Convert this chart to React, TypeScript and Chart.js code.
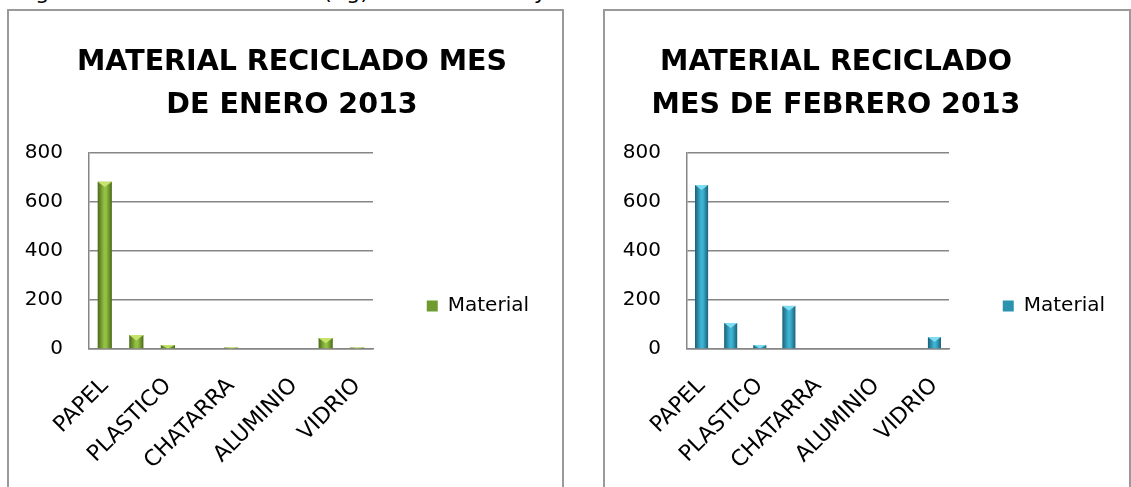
import React, { useEffect, useRef } from 'react';
import { Chart, registerables } from 'chart.js';

Chart.register(...registerables);

// ---- data ----
const categories = ['PAPEL', '', 'PLASTICO', '', 'CHATARRA', '', 'ALUMINIO', '', 'VIDRIO'];
const eneroValues = [683, 57, 16, 0, 6, 0, 0, 45, 6];
const febreroValues = [669, 106, 16, 176, 0, 0, 0, 0, 49];
const yTickValues = [0, 200, 400, 600, 800];
const seriesLabel = 'Material';
const eneroTitle = ['MATERIAL RECICLADO MES', 'DE ENERO 2013'];
const febreroTitle = ['MATERIAL RECICLADO', 'MES DE FEBRERO 2013'];
const captionText = 'Figura 3. Material reciclado (Kg) mes de enero y febrero de 2013';

const FONT = '"DejaVu Sans", "Open Sans", sans-serif';
const Y_SIZE = 20;
const X_SIZE = 22;
const LEGEND_SIZE = 20;

type Geom = {
  width: number;
  height: number;
  chartLeft: number;
  chartRight: number;
  chartTop: number;
  chartBottom: number;
  textEnd: number;
  titleCenter: number;
  legendY: number;
};

type Palette = { base: string; dark: string; light: string; cap: string };

const GREEN: Palette = { base: '#6f9a2e', dark: '#4a6a17', light: '#93c044', cap: '#c6e46c' };
const BLUE: Palette = { base: '#2a93ae', dark: '#196079', light: '#3db3d1', cap: '#7fdcf2' };

const BAR_PCT = 0.45;

function BarChart(props: { title: string[]; values: number[]; palette: Palette; geom: Geom }) {
  const ref = useRef<HTMLCanvasElement | null>(null);
  useEffect(() => {
    const canvas = ref.current;
    if (!canvas) return;
    const g = props.geom;
    const pal = props.palette;
    const m = document.createElement('canvas').getContext('2d')!;
    m.font = `${LEGEND_SIZE}px ${FONT}`;
    const textW = m.measureText(seriesLabel).width;
    const half = LEGEND_SIZE / 2;
    const legendRight = g.textEnd + 10;
    const padR = g.width - legendRight;
    const padL = 2 * g.titleCenter - legendRight;
    const legendPad = Math.max(2, legendRight - g.chartRight - 21 - half - textW);
    const legendTitleH = 2 * g.legendY - g.chartTop - g.chartBottom;
    const titleLineH = 43;
    const titlePadBottom = 25.5;
    const titlePadTop = g.chartTop - 2 * titleLineH - titlePadBottom;

    const capPlugin = {
      id: 'barCaps',
      beforeDraw(chart: any) {
        const ys = chart.scales.y;
        if (ys) ys._computeLabelArea = () => undefined;
      },
      afterDatasetsDraw(chart: any) {
        const ctx = chart.ctx;
        const meta = chart.getDatasetMeta(0);
        meta.data.forEach((bar: any, i: number) => {
          const v = props.values[i];
          if (!v) return;
          const w = bar.width;
          const h = Math.abs(bar.base - bar.y);
          const capH = Math.min(w * 0.38, h);
          ctx.save();
          ctx.fillStyle = pal.cap;
          ctx.beginPath();
          ctx.moveTo(bar.x - w / 2, bar.y);
          ctx.lineTo(bar.x + w / 2, bar.y);
          ctx.lineTo(bar.x, bar.y + capH);
          ctx.closePath();
          ctx.fill();
          ctx.restore();
        });
      },
    };

    const chart = new Chart(canvas, {
      type: 'bar',
      data: {
        labels: categories,
        datasets: [
          {
            label: seriesLabel,
            data: props.values,
            barPercentage: BAR_PCT,
            categoryPercentage: 1,
            borderWidth: 0,
            backgroundColor: (ctx: any) => {
              if (ctx.type !== 'data') return pal.base;
              const ch = ctx.chart;
              const xs = ch.scales && ch.scales.x;
              if (!xs || !xs.width) return pal.base;
              const cx = xs.getPixelForValue(ctx.dataIndex);
              const w = (xs.width / categories.length) * BAR_PCT;
              const gr = ch.ctx.createLinearGradient(cx - w / 2, 0, cx + w / 2, 0);
              gr.addColorStop(0, pal.dark);
              gr.addColorStop(0.45, pal.light);
              gr.addColorStop(0.6, pal.light);
              gr.addColorStop(1, pal.dark);
              return gr;
            },
          },
        ],
      },
      options: {
        animation: false,
        responsive: false,
        maintainAspectRatio: false,
        events: [],
        layout: { padding: { left: padL, right: padR, top: 0, bottom: 0 } },
        plugins: {
          tooltip: { enabled: false },
          title: {
            display: true,
            text: props.title,
            color: '#000',
            font: { family: FONT, size: 28.5, weight: 'bold', lineHeight: titleLineH / 28.5 },
            padding: { top: titlePadTop, bottom: titlePadBottom },
          },
          legend: {
            display: true,
            position: 'right',
            align: 'center',
            fullSize: false,
            maxWidth: 1000,
            title: { display: true, text: '', padding: { top: legendTitleH - 1, bottom: 0 }, font: { size: 1, lineHeight: 1 } },
            labels: {
              boxWidth: 11,
              boxHeight: 11,
              padding: legendPad,
              color: '#000',
              font: { family: FONT, size: LEGEND_SIZE },
              generateLabels: (ch: any) => [
                {
                  text: ch.data.datasets[0].label,
                  fillStyle: pal.base,
                  strokeStyle: pal.dark,
                  fontColor: '#000',
                  lineWidth: 0,
                  hidden: false,
                  datasetIndex: 0,
                },
              ],
            },
          },
        },
        scales: {
          x: {
            grid: { display: false, drawTicks: false },
            border: { display: true, color: '#868686', width: 1.5 },
            afterFit: (s: any) => {
              s.height = g.height - g.chartBottom;
            },
            ticks: {
              autoSkip: false,
              maxRotation: 45,
              minRotation: 45,
              padding: 24,
              color: '#000',
              font: { family: FONT, size: X_SIZE },
            },
          },
          y: {
            min: 0,
            max: 800,
            afterBuildTicks: (s: any) => {
              s.ticks = yTickValues.map((v) => ({ value: v }));
            },
            afterFit: (s: any) => {
              s.width = g.chartLeft - padL;
            },
            grid: { color: '#868686', lineWidth: 1.5, drawTicks: false },
            border: { display: true, color: '#868686', width: 1.5 },
            ticks: {
              padding: 26,
              color: '#000',
              font: { family: FONT, size: Y_SIZE },
            },
          },
        },
      },
      plugins: [capPlugin],
    } as any);
    return () => chart.destroy();
  }, []);
  return (
    <canvas
      ref={ref}
      width={props.geom.width}
      height={props.geom.height}
      style={{ position: 'absolute', left: 0, top: 0, width: props.geom.width, height: props.geom.height }}
    />
  );
}

const boxStyle = (left: number, width: number): React.CSSProperties => ({
  position: 'absolute',
  left,
  top: 9,
  width,
  height: 520,
  border: '2px solid #9a9a9a',
  boxSizing: 'border-box',
  overflow: 'hidden',
  background: '#fff',
});

export default function App() {
  const leftGeom: Geom = {
    width: 553,
    height: 476,
    chartLeft: 80,
    chartRight: 364,
    chartTop: 142,
    chartBottom: 338,
    textEnd: 520,
    titleCenter: 283,
    legendY: 295,
  };
  const rightGeom: Geom = {
    width: 524,
    height: 476,
    chartLeft: 82,
    chartRight: 344,
    chartTop: 142,
    chartBottom: 338,
    textEnd: 500,
    titleCenter: 231,
    legendY: 295,
  };
  return (
    <div style={{ position: 'fixed', left: 0, top: 0, width: 1131, height: 487, overflow: 'hidden', background: '#fff' }}>
      <div
        style={{
          position: 'absolute',
          left: 18,
          top: -19,
          fontFamily: FONT,
          fontSize: 22,
          lineHeight: '22px',
          whiteSpace: 'nowrap',
          color: '#000',
        }}
      >
        {captionText}
      </div>
      <div style={boxStyle(7, 557)}>
        <BarChart title={eneroTitle} values={eneroValues} palette={GREEN} geom={leftGeom} />
      </div>
      <div style={boxStyle(603, 528)}>
        <BarChart title={febreroTitle} values={febreroValues} palette={BLUE} geom={rightGeom} />
      </div>
    </div>
  );
}
